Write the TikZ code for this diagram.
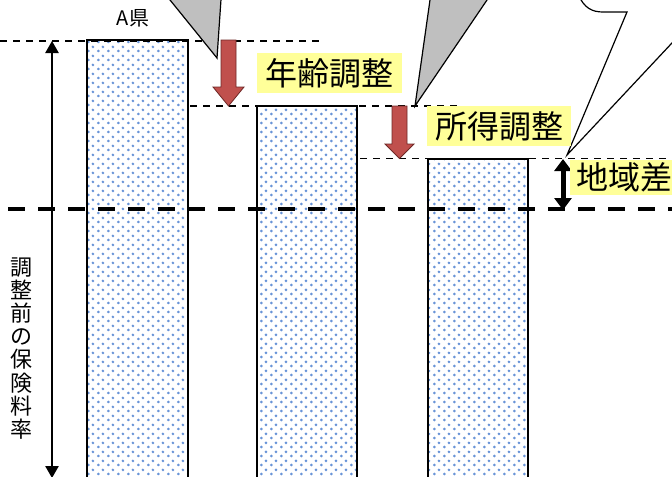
\documentclass[tikz,border=0pt]{standalone}
\usepackage{fontspec}
\setmainfont{Noto Sans CJK JP}
\usetikzlibrary{arrows.meta,patterns.meta}
\definecolor{dotblue}{RGB}{105,148,215}
\definecolor{hlyellow}{RGB}{255,255,153}
\definecolor{arrred}{RGB}{192,80,77}
\definecolor{arrredd}{RGB}{110,40,38}
\definecolor{wedgegray}{RGB}{191,191,191}
\tikzdeclarepattern{
  name=bluedots,
  type=colored,
  bottom left={(0pt,0pt)},
  top right={(7.2pt,6.4pt)},
  tile size={(7.2pt,6.4pt)},
  code={
    \fill[dotblue] (1.8pt,1.6pt) circle (1.15pt);
    \fill[dotblue] (5.4pt,4.8pt) circle (1.15pt);
  }
}
\begin{document}
\begin{tikzpicture}[x=0.75pt,y=-0.75pt,
  barbox/.style={pattern=bluedots,draw=black,line width=1.5pt},
  thindash/.style={line width=1.1pt,dash pattern=on 5.25pt off 4.5pt},
  thickdash/.style={line width=3pt,dash pattern=on 12.75pt off 9.75pt},
  redarr/.style={fill=arrred,draw=arrredd,line width=0.6pt},
  wedge/.style={fill=wedgegray,draw=black,line width=0.9pt},
  bubble/.style={fill=white,draw=black,line width=0.9pt},
  hl/.style={fill=hlyellow,inner xsep=6pt,inner ysep=0pt,minimum height=30pt,font=\fontsize{24}{24}\selectfont},
  dimarrow/.style={line width=1.1pt,{Triangle[length=9pt,width=10pt]}-{Triangle[length=9pt,width=10pt]}},
  bigarrow/.style={line width=3.75pt,{Triangle[length=9pt,width=12.75pt]}-{Triangle[length=9pt,width=12.75pt]}}
]
\useasboundingbox (0,0) rectangle (672,476);
\clip (0,0) rectangle (672,476);

% bars
\draw[barbox] (87,40) rectangle (188,482);
\draw[barbox] (257,106) rectangle (357,482);
\draw[barbox] (428,158.5) rectangle (528,482);

% level lines
\coordinate (l1a) at (0,41);   \coordinate (l1b) at (325,41);
\coordinate (l2a) at (190,106); \coordinate (l2b) at (462,106);
\coordinate (l3a) at (360,158.5); \coordinate (l3b) at (672,158.5);
\coordinate (l4a) at (8,209); \coordinate (l4b) at (672,209);
\draw[thindash] (l1a) -- (l1b);
\draw[thindash] (l2a) -- (l2b);
\draw[thindash] (l3a) -- (l3b);
\draw[thickdash] (l4a) -- (l4b);

% red arrows
\draw[redarr] (221,40) -- (236,40) -- (236,87) -- (244,87) -- (228.5,106) -- (213,87) -- (221,87) -- cycle;
\draw[redarr] (392,106) -- (407,106) -- (407,144) -- (414,144) -- (399.5,158.5) -- (385,144) -- (392,144) -- cycle;

% dimension arrows
\coordinate (d1a) at (52,41); \coordinate (d1b) at (52,478);
\draw[dimarrow] (d1a) -- (d1b);
\coordinate (d2a) at (563,159); \coordinate (d2b) at (563,210);
\draw[bigarrow] (d2a) -- (d2b);

% callout pointers
\filldraw[wedge] (166,-5) -- (217,58) -- (221.3,-5);
\filldraw[wedge] (430.7,-5) -- (415,106) -- (490.4,-5);
\filldraw[bubble] (578,-6) .. controls (584,8) and (592,12) .. (603,12) -- (627,12) -- (567,155) -- (701,12);

% labels
\fill[hlyellow] (600,160) rectangle (680,195);
\node[font=\fontsize{15}{15}\selectfont] (ken) at (133,18) {A県};
\node[hl,minimum width=108.75pt] (nenrei) at (329.5,73) {年齢調整};
\node[hl,minimum width=108pt] (shotoku) at (499,126) {所得調整};
\node[hl,anchor=west,minimum height=26.25pt,inner xsep=4.5pt] (chiiki) at (570,177.5) {地域差};
\node[align=center,font=\fontsize{16.5}{17.3}\selectfont] (rate) at (21.5,348.5) {調\\整\\前\\の\\保\\険\\料\\率};
\end{tikzpicture}
\end{document}
